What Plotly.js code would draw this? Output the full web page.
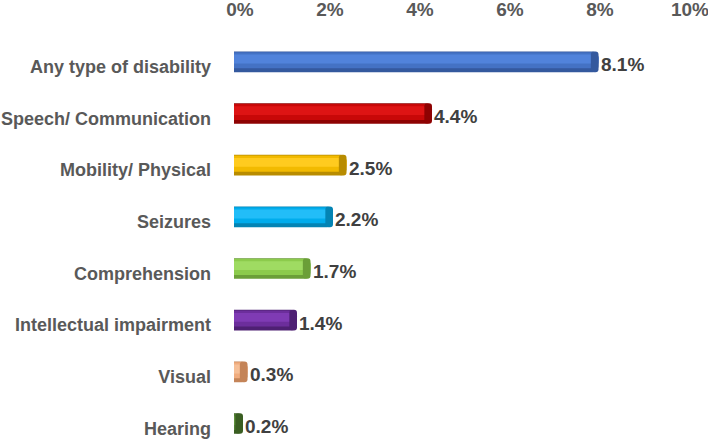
<!DOCTYPE html>
<html>
<head>
<meta charset="utf-8">
<script src="https://cdn.plot.ly/plotly-3.0.1.min.js"></script>
<style>html,body{margin:0;padding:0;background:#fff;}#chart{width:708px;height:439px;}</style>
</head>
<body>
<div id="chart"></div>
<script>
const categories = ["Any type of disability","Speech/ Communication","Mobility/ Physical","Seizures","Comprehension","Intellectual impairment","Visual","Hearing"];
const values = [8.1, 4.4, 2.5, 2.2, 1.7, 1.4, 0.3, 0.2];
const valueLabels = ["8.1%","4.4%","2.5%","2.2%","1.7%","1.4%","0.3%","0.2%"];
const tickVals = [0, 2, 4, 6, 8, 10];
const tickText = ["0%","2%","4%","6%","8%","10%"];
const baseColors = ["#4472C4","#C80808","#F2BA00","#00ACEC","#8CCB4C","#6C2E9C","#F0AC7E","#507E32"];
const lightColors = ["#5183DB","#DE1414","#FFCB1F","#22BDF8","#9FDB62","#7F3BB4","#F6BF97","#5F913D"];
const darkColors = ["#34599E","#8E0202","#B88C00","#0384B4","#6B9F38","#4E2073","#C48458","#3A5E22"];

const fontFam = "Liberation Sans, Arial, sans-serif";

function layer(colors, width, offset, radius) {
  return {
    type: "bar", orientation: "h", y: categories, x: values,
    width: width, offset: offset,
    marker: {color: colors, cornerradius: radius, line: {width: 0}},
    hoverinfo: "skip", showlegend: false
  };
}

const body = layer(darkColors, 0.40, -0.20, 6);
const mid = layer(baseColors, 0.31, -0.185, 6);
const hi = layer(lightColors, 0.17, -0.14, 4);
const capW = 0.17;
const cap = {
  type: "bar", orientation: "h", y: categories,
  x: values.map(() => capW), base: values.map(v => v - capW),
  width: 0.40, marker: {color: darkColors, cornerradius: "50%", line: {width: 0}},
  hoverinfo: "skip", showlegend: false
};

const annotations = values.map((v, i) => ({
  x: v, y: categories[i], xref: "x", yref: "y",
  text: valueLabels[i], showarrow: false,
  xanchor: "left", yanchor: "middle", xshift: 0, yshift: -3,
  font: {family: fontFam, size: 19, color: "#404040", weight: "bold"}
}));

const layout = {
  width: 708, height: 439,
  margin: {l: 234, r: 24, t: 36, b: 0},
  paper_bgcolor: "#ffffff", plot_bgcolor: "#ffffff",
  barmode: "overlay",
  font: {family: fontFam},
  annotations: annotations,
  xaxis: {
    side: "top", range: [0, 10], tickvals: tickVals, ticktext: tickText,
    showgrid: false, zeroline: false, showline: false, ticks: "",
    tickfont: {family: fontFam, size: 19, color: "#595959", weight: "bold"},
    ticklabelshift: 6, ticklabelstandoff: 15, ticklabeloverflow: "allow",
    fixedrange: true
  },
  yaxis: {
    type: "category", range: [7.3, -0.5], showgrid: false, zeroline: false,
    showline: false, ticks: "", ticklabelstandoff: 22, ticklabelshift: -5,
    ticklabeloverflow: "allow",
    tickfont: {family: fontFam, size: 18, color: "#595959", weight: "bold"},
    fixedrange: true
  }
};

Plotly.newPlot("chart", [body, mid, hi, cap], layout, {displayModeBar: false, staticPlot: true});
</script>
</body>
</html>
